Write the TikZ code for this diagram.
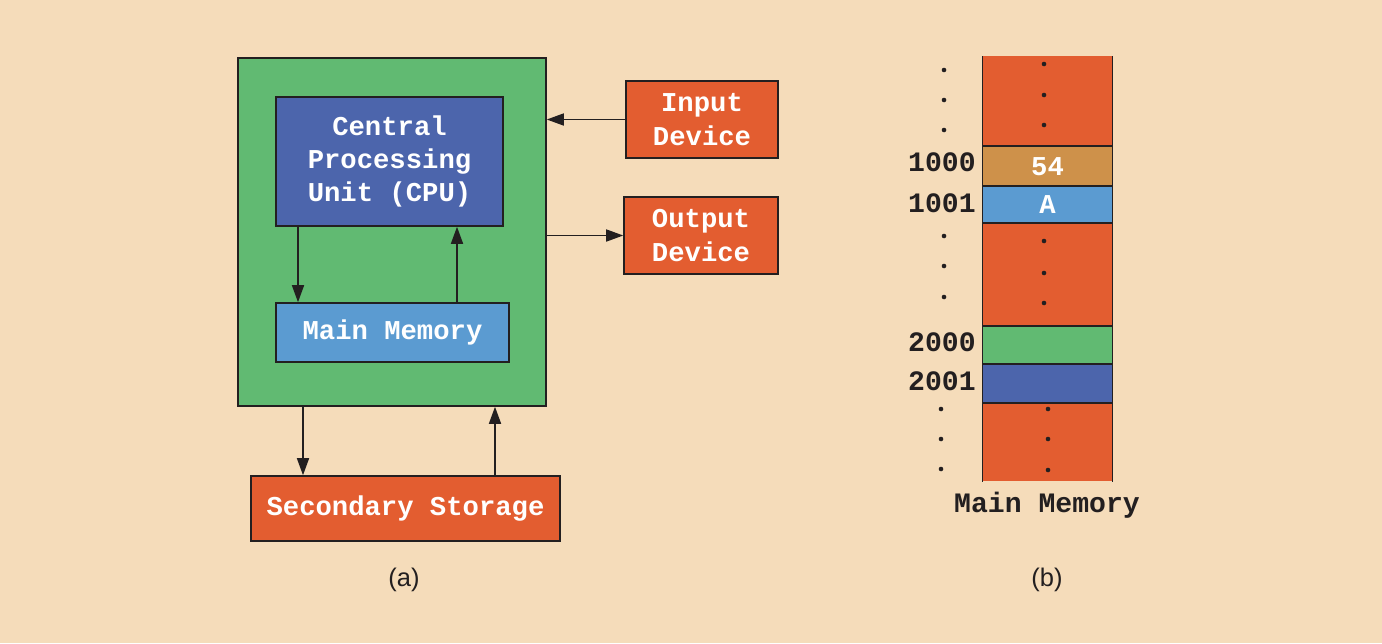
\documentclass[tikz,border=0pt]{standalone}
\usepackage{fontspec}
\setmainfont{Liberation Sans}
\setmonofont{Liberation Mono}
\usetikzlibrary{arrows.meta}
\definecolor{peach}{HTML}{F5DCBA}
\definecolor{mOrange}{HTML}{E35D30}
\definecolor{mGreen}{HTML}{61BA72}
\definecolor{mBlue}{HTML}{4C65AC}
\definecolor{mSky}{HTML}{5B9BD1}
\definecolor{mTan}{HTML}{CE914A}
\definecolor{ink}{HTML}{231F20}
\tikzset{
  unit/.style={draw=ink, line width=0.9pt, fill=#1, inner sep=0pt, text=white, align=center,
    font=\ttfamily\bfseries\fontsize{15.5}{19}\selectfont},
  cell/.style={fill=#1, inner sep=0pt, text=white, minimum width=2.58cm,
    font=\ttfamily\bfseries\fontsize{15.5}{19}\selectfont},
  addr/.style={inner sep=0pt, text=ink, font=\ttfamily\bfseries\fontsize{16}{19}\selectfont},
  caption/.style={inner sep=0pt, text=ink, font=\fontsize{14.5}{17}\selectfont},
  arr/.style={draw=ink, line width=0.9pt, -{Triangle[length=0.34cm,width=0.24cm]}},
}
\begin{document}
\begin{tikzpicture}[x=0.02cm, y=-0.02cm]
  \fill[peach] (0,0) rectangle (1382,643);
  \useasboundingbox (0,0) rectangle (1382,643);
  % (a) the computer
  \node[unit=mGreen, minimum width=6.16cm, minimum height=6.96cm] (computer) at (392,232) {};
  \node[unit=mBlue, minimum width=4.54cm, minimum height=2.58cm] (cpu) at (389.5,161.5) {Central\\Processing\\Unit (CPU)};
  \node[unit=mSky, minimum width=4.66cm, minimum height=1.18cm] (mem) at (392.5,332.5) {Main Memory};
  \node[unit=mOrange, minimum width=3.04cm, minimum height=1.54cm] (input) at (702,119.5) {Input\\Device};
  \node[unit=mOrange, minimum width=3.08cm, minimum height=1.54cm] (output) at (701,235.5) {Output\\Device};
  \node[unit=mOrange, minimum width=6.18cm, minimum height=1.3cm] (storage) at (405.5,508.5) {Secondary Storage};
  \draw[arr] (input.west) -- (input.west -| computer.east);
  \draw[arr] (computer.east |- output.west) -- (output.west);
  \draw[arr] (cpu.south -| 298,0) -- (mem.north -| 298,0);
  \draw[arr] (mem.north -| 457,0) -- (cpu.south -| 457,0);
  \draw[arr] (computer.south -| 303,0) -- (storage.north -| 303,0);
  \draw[arr] (storage.north -| 495,0) -- (computer.south -| 495,0);
  \node[caption] (capa) at (404,580) {(a)};
  % (b) the memory cells
  \foreach \top/\bot/\col/\txt [count=\i] in {
    56/146/mOrange/, 146/186/mTan/54, 186/223/mSky/A, 223/326/mOrange/,
    326/364/mGreen/, 364/403/mBlue/, 403/481/mOrange/} {
    \node[cell=\col, minimum height={(\bot-\top)*0.02cm}, anchor=north] (cell\i) at (1047.5,\top) {\txt};
  }
  \draw[ink, line width=0.9pt] (cell1.north west) -- (cell7.south west)
    (cell1.north east) -- (cell7.south east);
  \foreach \i in {2,...,7}
    \draw[ink, line width=0.9pt] (cell\i.north west) -- (cell\i.north east);
  \foreach \y in {70,100,130,236,266,297}
    \fill[ink] (944,\y) circle (2.3);
  \foreach \y in {409,439,469}
    \fill[ink] (941,\y) circle (2.3);
  \foreach \y in {64,95,125,241,273,303}
    \fill[ink] (1044,\y) circle (2.3);
  \foreach \y in {409,439,470}
    \fill[ink] (1048,\y) circle (2.3);
  \node[addr, anchor=east] (a1000) at (976,162) {1000};
  \node[addr, anchor=east] (a1001) at (976,203) {1001};
  \node[addr, anchor=east] (a2000) at (976,342) {2000};
  \node[addr, anchor=east] (a2001) at (976,381) {2001};
  \node[addr] (memlabel) at (1047,505) {Main Memory};
  \node[caption] (capb) at (1047,580) {(b)};
\end{tikzpicture}
\end{document}
